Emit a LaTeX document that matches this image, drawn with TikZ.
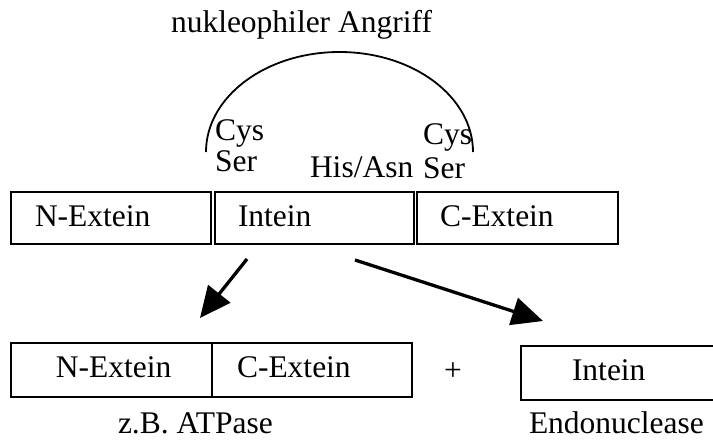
\documentclass[tikz,border=0pt]{standalone}
\usepackage{fontspec}
\setmainfont{Liberation Serif}
\usetikzlibrary{arrows.meta}
\begin{document}
\begin{tikzpicture}[x=1pt,y=-1pt,
  box/.style={draw, line width=2pt, inner sep=0pt, outer sep=0pt, anchor=north west},
  lbl/.style={inner sep=0pt, outer sep=0pt, anchor=base west, font=\fontsize{31.5}{36}\selectfont},
  bigarrow/.style={line width=3.3pt, -{Triangle[length=31pt,width=28pt]}},
  arcline/.style={line width=1.8pt}]
\clip (0,0) rectangle (713,441);
\fill[white] (0,0) rectangle (713,441);

% title
\node[lbl] (title) at (171,33) {nukleophiler Angriff};

% attack arc
\coordinate (arcL) at (206,152);
\coordinate (arcR) at (473,152);
\draw[arcline] (arcL) arc[start angle=180, end angle=0, x radius=133.5pt, y radius=100pt];

% residue labels
\node[lbl] (cys1) at (215,141) {Cys};
\node[lbl] (ser1) at (215,172) {Ser};
\node[lbl] (his) at (310,178) {His/Asn};
\node[lbl] (cys2) at (423,145) {Cys};
\node[lbl] (ser2) at (423,179) {Ser};

% precursor
\node[box, minimum width=200pt, minimum height=52pt] (ne) at (11,192) {};
\node[box, minimum width=199.5pt, minimum height=52pt] (in) at (214.5,192) {};
\node[box, minimum width=201pt, minimum height=52pt] (ce) at (417,192) {};
\node[lbl] (tne) at (35,226) {N-Extein};
\node[lbl] (tin) at (238,226) {Intein};
\node[lbl] (tce) at (440,226) {C-Extein};

% arrows
\coordinate (a1s) at (247,259);
\coordinate (a1e) at (200,318);
\coordinate (a2s) at (355,260);
\coordinate (a2e) at (543,321);
\draw[bigarrow] (a1s) -- (a1e);
\draw[bigarrow] (a2s) -- (a2e);

% products
\node[box, minimum width=201pt, minimum height=54pt] (bne) at (11,343) {};
\node[box, minimum width=200pt, minimum height=54pt] (bce) at (212,343) {};
\node[lbl] (tbne) at (56,377) {N-Extein};
\node[lbl] (tbce) at (237,377) {C-Extein};
\node[lbl, anchor=center] (plus) at (453,372) {+};
\node[box, minimum width=200pt, minimum height=54pt] (bin) at (521,346) {};
\node[lbl] (tbin) at (572,380) {Intein};

\node[lbl] (atp) at (118,433) {z.B. ATPase};
\node[lbl] (endo) at (529,433) {Endonuclease};
\end{tikzpicture}
\end{document}
